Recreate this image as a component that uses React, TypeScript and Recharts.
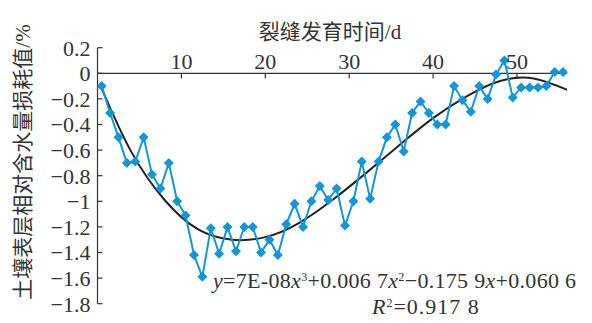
import React from 'react';
import { LineChart, Line, XAxis, YAxis, ReferenceLine } from 'recharts';

// crack development day (1..56) and measured loss of relative water content (%)
const days = Array.from({ length: 56 }, (_, i) => i + 1);
const lossValues = [
  -0.10, -0.31, -0.50, -0.70, -0.69, -0.50, -0.79, -0.90, -0.70, -1.00,
  -1.11, -1.42, -1.59, -1.21, -1.41, -1.20, -1.39, -1.20, -1.20, -1.40,
  -1.30, -1.42, -1.18, -1.02, -1.20, -1.00, -0.88, -0.99, -0.90, -1.19,
  -1.00, -0.69, -0.98, -0.69, -0.50, -0.40, -0.61, -0.31, -0.22, -0.31,
  -0.40, -0.40, -0.10, -0.21, -0.30, -0.10, -0.20, -0.01, 0.10, -0.19,
  -0.11, -0.11, -0.11, -0.10, 0.01, 0.01,
];

// cubic trend line, sampled along the axis
const trendX = [0.5, 4, 8, 12, 16, 20, 24, 28, 32, 36, 40, 44, 48, 52, 56];
const trendValues = [-0.12, -0.61, -0.99, -1.22, -1.30, -1.28, -1.17, -0.99, -0.78, -0.56, -0.35, -0.18, -0.06, -0.04, -0.13];

const xTicks = [10, 20, 30, 40, 50];
const yTicks = [0.2, 0, -0.2, -0.4, -0.6, -0.8, -1, -1.2, -1.4, -1.6, -1.8];

const BLUE = '#1296d6';
const AXIS = '#333';
const SERIF = "'Liberation Serif', 'Noto Sans CJK SC', serif";

// each day sits in the middle of its slot on the axis
const lossData = days.map((d, i) => ({ x: d - 0.5, v: lossValues[i] }));
const trendData = trendX.map((x, i) => ({ x, v: trendValues[i] }));

const Diamond = (props: any) => {
  const { cx, cy } = props;
  if (cx == null || cy == null) return null;
  const r = 5;
  return <path d={`M${cx},${cy - r}L${cx + r},${cy}L${cx},${cy + r}L${cx - r},${cy}Z`} fill={BLUE} />;
};

const fmtY = (v: number) => String(Math.round(v * 10) / 10).replace('-', '\u2212');

const sup = { fontSize: 12, position: 'relative' as const, top: -7 };
const fitText = { position: 'absolute' as const, fontSize: 22, lineHeight: '20px', height: 20, whiteSpace: 'nowrap' as const };

export default function App() {
  return (
    <div style={{ position: 'absolute', left: 0, top: 0, width: 592, height: 323, background: '#fff', fontFamily: SERIF, color: AXIS }}>
      <LineChart width={592} height={323} margin={{ top: 47.7, right: 24.7, bottom: 19.3, left: 0 }}>
        <XAxis
          type="number"
          dataKey="x"
          orientation="top"
          mirror
          domain={[0, 56]}
          ticks={xTicks}
          allowDataOverflow
          axisLine={false}
          tickLine={false}
          tickSize={0}
          tickMargin={6}
          tick={{ fontSize: 22, fill: AXIS, fontFamily: SERIF }}
        />
        <YAxis
          type="number"
          dataKey="v"
          width={97.5}
          domain={[-1.8, 0.2]}
          ticks={yTicks}
          interval={0}
          tickFormatter={fmtY}
          axisLine={{ stroke: AXIS, strokeWidth: 1.2 }}
          tickLine={{ stroke: AXIS, strokeWidth: 1.2 }}
          tickSize={-5}
          tickMargin={12}
          tick={{ fontSize: 22, fill: AXIS, fontFamily: SERIF }}
        />
        {/* x axis runs along the zero level */}
        <ReferenceLine y={0} stroke={AXIS} strokeWidth={1.2} />
        {xTicks.map((t) => (
          <ReferenceLine key={t} segment={[{ x: t, y: 0 }, { x: t, y: -0.04 }]} stroke={AXIS} strokeWidth={1.2} />
        ))}
        <Line
          data={trendData}
          dataKey="v"
          type="natural"
          stroke="#222"
          strokeWidth={2}
          dot={false}
          isAnimationActive={false}
        />
        <Line
          data={lossData}
          dataKey="v"
          type="linear"
          stroke={BLUE}
          strokeWidth={2}
          dot={<Diamond />}
          activeDot={false}
          isAnimationActive={false}
        />
      </LineChart>
      <div style={{ position: 'absolute', left: 330, top: 30, transform: 'translate(-50%, -50%)', fontSize: 21, whiteSpace: 'nowrap' }}>
        裂缝发育时间/d
      </div>
      <div style={{ position: 'absolute', left: 21, top: 162, transform: 'translate(-50%, -50%) rotate(-90deg)', fontSize: 21, whiteSpace: 'nowrap' }}>
        土壤表层相对含水量损耗值/%
      </div>
      <div style={{ ...fitText, left: 213, top: 271, letterSpacing: 0.3 }}>
        <i>y</i>=7E-08<i>x</i><span style={sup}>3</span>+0.006 7<i>x</i><span style={sup}>2</span>{'\u2212'}0.175 9<i>x</i>+0.060 6
      </div>
      <div style={{ ...fitText, left: 372, top: 297, letterSpacing: 1 }}>
        <i>R</i><span style={sup}>2</span>=0.917 8
      </div>
    </div>
  );
}
